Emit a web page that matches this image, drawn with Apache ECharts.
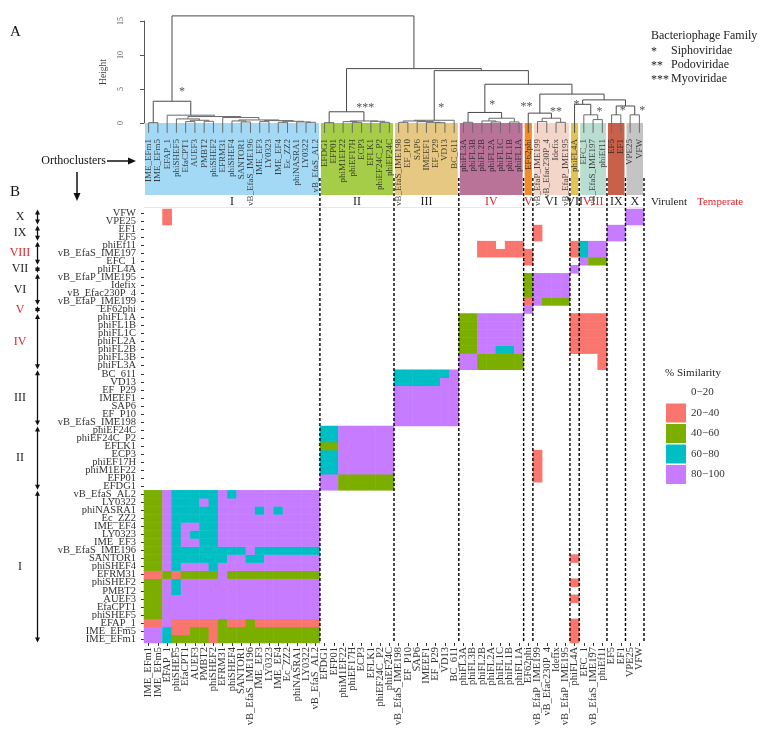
<!DOCTYPE html>
<html>
<head>
<meta charset="utf-8">
<script src="https://cdn.jsdelivr.net/npm/echarts@6.0.0/dist/echarts.min.js"></script>
<style>
html,body{margin:0;padding:0;background:#fff;}
#chart{width:762px;height:737px;}
</style>
</head>
<body>
<div id="chart"></div>
<script>
// ================= DATA =================
// phages in dendrogram / heatmap-column order (left -> right); rows use the same order bottom -> top
const phages = ['IME_EFm1','IME_EFm5','EFAP_1','phiSHEF5','EfaCPT1','AUEF3','PMBT2','phiSHEF2','EFRM31','phiSHEF4','SANTOR1','vB_EfaS_IME196','IME_EF3','LY0323','IME_EF4','Ec_ZZ2','phiNASRA1','LY0322','vB_EfaS_AL2',
  'EFDG1','EFP01','phiM1EF22','phiEF17H','ECP3','EFLK1','phiEF24C_P2','phiEF24C',
  'vB_EfaS_IME198','EF_P10','SAP6','IMEEF1','EF_P29','VD13','BC_611',
  'phiFL3A','phiFL3B','phiFL2B','phiFL2A','phiFL1C','phiFL1B','phiFL1A',
  'EF62phi',
  'vB_EfaP_IME199','vB_Efac230P_4','Idefix','vB_EfaP_IME195',
  'phiFL4A',
  'EFC_1','vB_EfaS_IME197','phiEf11',
  'EF5','EF1',
  'VPE25','VFW'];

const clusterNames = ['I','II','III','IV','V','VI','VII','VIII','IX','X'];
const clusterSizes = [19, 8, 7, 7, 1, 4, 1, 3, 2, 2];
const clusterLifestyle = ['Virulent','Virulent','Virulent','Temperate','Temperate','Virulent','Virulent','Temperate','Virulent','Virulent'];
const clusterFamily = ['*','***','*','*','**','**','*','*','*','*'];
const familyNames = ['Siphoviridae','Podoviridae','Myoviridae'];
const familyMarks = ['*','**','***'];

// % similarity bands
const bandLabels = ['0\u221220','20\u221240','40\u221260','60\u221280','80\u2212100'];

// similarity band per cell: row k = 0 (IME_EFm1, bottom) ... 53 (VFW, top);
// one digit per column (0 = 0-20, 1 = 20-40, 2 = 40-60, 3 = 60-80, 4 = 80-100),
// column groups separated by spaces: I II III IV V VI VII VIII IX X
const similarity = [
  '4432222122222222222 00000000 0000000 0000000 0 0000 1 000 00 00', // IME_EFm1
  '4431122122222222222 00000000 0000000 0000000 0 0000 1 000 00 00', // IME_EFm5
  '1141111121121111111 00000000 0000000 0000000 0 0000 1 000 00 00', // EFAP_1
  '2244444444444444444 00000000 0000000 0000000 0 0000 0 000 00 00', // phiSHEF5
  '2244444444444444444 00000000 0000000 0000000 0 0000 0 000 00 00', // EfaCPT1
  '2244444444444444444 00000000 0000000 0000000 0 0000 1 000 00 00', // AUEF3
  '2243444444444444444 00000000 0000000 0000000 0 0000 0 000 00 00', // PMBT2
  '2243444444444444444 00000000 0000000 0000000 0 0000 1 000 00 00', // phiSHEF2
  '1121222242222222222 00000000 0000000 0000000 0 0000 0 000 00 00', // EFRM31
  '2243444344444444444 00000000 0000000 0000000 0 0000 0 000 00 00', // phiSHEF4
  '2243333334433444444 00000000 0000000 0000000 0 0000 1 000 00 00', // SANTOR1
  '2243333333343333333 00000000 0000000 0000000 0 0000 0 000 00 00', // vB_EfaS_IME196
  '2243443344444444444 00000000 0000000 0000000 0 0000 0 000 00 00', // IME_EF3
  '2243433344444444444 00000000 0000000 0000000 0 0000 0 000 00 00', // LY0323
  '2243443344444444444 00000000 0000000 0000000 0 0000 0 000 00 00', // IME_EF4
  '2243333344444444444 00000000 0000000 0000000 0 0000 0 000 00 00', // Ec_ZZ2
  '2243333344443434444 00000000 0000000 0000000 0 0000 0 000 00 00', // phiNASRA1
  '2243334344444444444 00000000 0000000 0000000 0 0000 0 000 00 00', // LY0322
  '2243333343444444444 00000000 0000000 0000000 0 0000 0 000 00 00', // vB_EfaS_AL2
  '0000000000000000000 44222222 0000000 0000000 0 0000 0 000 00 00', // EFDG1
  '0000000000000000000 44222222 0000000 0000000 0 1000 0 000 00 00', // EFP01
  '0000000000000000000 33444444 0000000 0000000 0 1000 0 000 00 00', // phiM1EF22
  '0000000000000000000 33444444 0000000 0000000 0 1000 0 000 00 00', // phiEF17H
  '0000000000000000000 33444444 0000000 0000000 0 1000 0 000 00 00', // ECP3
  '0000000000000000000 22444444 0000000 0000000 0 0000 0 000 00 00', // EFLK1
  '0000000000000000000 33444444 0000000 0000000 0 0000 0 000 00 00', // phiEF24C_P2
  '0000000000000000000 33444444 0000000 0000000 0 0000 0 000 00 00', // phiEF24C
  '0000000000000000000 00000000 4444444 0000000 0 0000 0 000 00 00', // vB_EfaS_IME198
  '0000000000000000000 00000000 4444444 0000000 0 0000 0 000 00 00', // EF_P10
  '0000000000000000000 00000000 4444444 0000000 0 0000 0 000 00 00', // SAP6
  '0000000000000000000 00000000 4444444 0000000 0 0000 0 000 00 00', // IMEEF1
  '0000000000000000000 00000000 4444444 0000000 0 0000 0 000 00 00', // EF_P29
  '0000000000000000000 00000000 3333344 0000000 0 0000 0 000 00 00', // VD13
  '0000000000000000000 00000000 3333334 0000000 0 0000 0 000 00 00', // BC_611
  '0000000000000000000 00000000 0000000 4422222 0 0000 0 001 00 00', // phiFL3A
  '0000000000000000000 00000000 0000000 4422222 0 0000 0 001 00 00', // phiFL3B
  '0000000000000000000 00000000 0000000 2244334 0 0000 1 111 00 00', // phiFL2B
  '0000000000000000000 00000000 0000000 2244444 0 0000 1 111 00 00', // phiFL2A
  '0000000000000000000 00000000 0000000 2244444 0 0000 1 111 00 00', // phiFL1C
  '0000000000000000000 00000000 0000000 2244444 0 0000 1 111 00 00', // phiFL1B
  '0000000000000000000 00000000 0000000 2244444 0 0000 1 111 00 00', // phiFL1A
  '0000000000000000000 00000000 0000000 0000000 4 0000 0 000 00 00', // EF62phi
  '0000000000000000000 00000000 0000000 0000000 1 4222 0 000 00 00', // vB_EfaP_IME199
  '0000000000000000000 00000000 0000000 0000000 2 4444 0 000 00 00', // vB_Efac230P_4
  '0000000000000000000 00000000 0000000 0000000 2 4444 0 000 00 00', // Idefix
  '0000000000000000000 00000000 0000000 0000000 2 4444 0 000 00 00', // vB_EfaP_IME195
  '0000000000000000000 00000000 0000000 0000000 0 0000 4 000 00 00', // phiFL4A
  '0000000000000000000 00000000 0000000 0000000 1 0000 0 422 00 00', // EFC_1
  '0000000000000000000 00000000 0000000 0011111 1 0000 1 344 00 00', // vB_EfaS_IME197
  '0000000000000000000 00000000 0000000 0011011 0 0000 1 344 00 00', // phiEf11
  '0000000000000000000 00000000 0000000 0000000 0 1000 0 000 44 00', // EF5
  '0000000000000000000 00000000 0000000 0000000 0 1000 0 000 44 00', // EF1
  '0010000000000000000 00000000 0000000 0000000 0 0000 0 000 00 44', // VPE25
  '0010000000000000000 00000000 0000000 0000000 0 0000 0 000 00 44'  // VFW
];

// dendrogram: [height, left, right]; leaves are phage names
const treeI = [3.2,
  [0.05, 'IME_EFm1', 'IME_EFm5'],
  [1.15, 'EFAP_1',
    [0.95,
      [0.6, 'phiSHEF5', [0.4, [0.2, 'EfaCPT1', 'AUEF3'], [0.25, 'PMBT2', 'phiSHEF2']]],
      [0.8, 'EFRM31',
        [0.45,
          [0.3, 'phiSHEF4', [0.15, 'SANTOR1', 'vB_EfaS_IME196']],
          [0.35, [0.2, 'IME_EF3', 'LY0323'],
            [0.25, [0.1, 'IME_EF4', 'Ec_ZZ2'], [0.15, 'phiNASRA1', [0.1, 'LY0322', 'vB_EfaS_AL2']]]]]]]]];
const treeII = [1.65, [0.05, 'EFDG1', 'EFP01'],
  [0.3, [0.2, 'phiM1EF22', [0.1, 'phiEF17H', 'ECP3']], [0.25, 'EFLK1', [0.1, 'phiEF24C_P2', 'phiEF24C']]]];
const treeIII = [0.4, [0.3, [0.1, 'vB_EfaS_IME198', 'EF_P10'], [0.2, 'SAP6', [0.1, 'IMEEF1', [0.05, 'EF_P29', 'VD13']]]], 'BC_611'];
const treeIV = [1.55, [0.1, 'phiFL3A', 'phiFL3B'], [0.7, [0.3, 'phiFL2B', [0.15, 'phiFL2A', 'phiFL1C']], [0.15, 'phiFL1B', 'phiFL1A']]];
const treeVI = [0.7, [0.2, 'vB_EfaP_IME199', 'vB_Efac230P_4'], [0.1, 'Idefix', 'vB_EfaP_IME195']];
const treeVIII = [1.2, 'EFC_1', [0.5, 'vB_EfaS_IME197', 'phiEf11']];
const treeIX = [1.2, 'EF5', 'EF1'];
const treeX = [1.2, 'VPE25', 'VFW'];
const dendrogram = [15.75, treeI,
  [8.0, treeII,
    [7.7, treeIII,
      [5.7, treeIV,
        [4.25, [1.45, 'EF62phi', treeVI],
          [3.4, [2.75, 'phiFL4A', treeVIII], [2.5, treeIX, treeX]]]]]]];

const heightTicks = [0, 5, 10, 15];

// ================= LAYOUT / STYLE =================
const FONT = 'Liberation Serif';
const RED = '#e0282e';
const PLOT_L = 144, PLOT_W = 500;
const DEN_TOP = 21, DEN_H = 102;          // height 15 at top, 0 at bottom
const HEAT_TOP = 209, HEAT_H = 434;
const BOX_TOP = 123, BOX_BOTTOM = 195;
const LEAF_H = -1.45;                      // leaf segments hang into the boxes
const LEAF_LABEL_TOP = 139;
const DASH_TOP = 178;
const BRACKET_X = 37.5, BRACKET_LABEL_X = 20;
const clusterFill = ['#a3d9f5','#a5cd47','#e7c882','#b97399','#f28c28','#f3d5ca','#e3c256','#b9ddd0','#c9604a','#c4c4c4'];
const bandColors = ['#ffffff','#F8766D','#7CAE00','#00BFC4','#C77CFF'];
// family-mark label anchors (column units, height units)
const markPos = [[4.1, 4.6], [23.9, 2.3], [32.1, 2.2], [37.6, 2.6], [41.3, 2.4], [44.5, 1.6], [46.7, 2.6], [49.2, 1.7], [51.7, 1.75], [53.8, 1.75]];

// ================= BUILD =================
const links = [];
function walk(node) {
  if (typeof node === 'string') return { x: phages.indexOf(node) + 0.5, h: LEAF_H };
  const L = walk(node[1]), R = walk(node[2]);
  links.push([L.x, L.h, R.x, R.h, node[0]]);
  return { x: (L.x + R.x) / 2, h: node[0] };
}
walk(dendrogram);

const clusterData = [];
let start = 0;
clusterSizes.forEach((n, i) => { clusterData.push([start, start + n, 0, i]); start += n; });

const bracketData = [];
{ let s = 0; clusterSizes.forEach((n, i) => { bracketData.push([0, s, s + n - 1, i]); s += n; }); }

const heatData = [];
similarity.forEach((row, k) => {
  const digits = row.replace(/ /g, '');
  for (let c = 0; c < digits.length; c++) {
    const b = +digits[c];
    if (b > 0) heatData.push([c, k, b]);
  }
});

const chart = echarts.init(document.getElementById('chart'), null, { renderer: 'canvas' });
const option = {
  animation: false,
  backgroundColor: '#fff',
  textStyle: { fontFamily: FONT },
  grid: [
    { left: PLOT_L, top: DEN_TOP, width: PLOT_W, height: DEN_H },
    { left: PLOT_L, top: HEAT_TOP, width: PLOT_W, height: HEAT_H }
  ],
  xAxis: [
    { gridIndex: 0, type: 'value', min: 0, max: phages.length, show: false },
    { gridIndex: 1, type: 'category', data: phages,
      axisLine: { show: false },
      axisTick: { show: true, alignWithLabel: true, length: 3, lineStyle: { color: '#333' } },
      axisLabel: { rotate: 90, interval: 0, fontSize: 10.5, fontFamily: FONT, color: '#333', margin: 4 },
      splitLine: { show: false } }
  ],
  yAxis: [
    { gridIndex: 0, type: 'value', min: 0, max: 15, interval: 5, offset: 14,
      axisLine: { show: true, lineStyle: { color: '#555', width: 1 } },
      axisTick: { show: true, length: 4, lineStyle: { color: '#555' } },
      axisLabel: { rotate: 90, fontSize: 8, color: '#555', fontFamily: FONT, margin: 5 },
      splitLine: { show: false },
      name: 'Height', nameLocation: 'middle', nameGap: 22, nameRotate: 90,
      nameTextStyle: { fontSize: 9.5, color: '#444', fontFamily: FONT } },
    { gridIndex: 1, type: 'category', data: phages,
      axisLine: { show: false },
      axisTick: { show: true, alignWithLabel: true, length: 3, lineStyle: { color: '#333' } },
      axisLabel: { interval: 0, fontSize: 10.5, fontFamily: FONT, color: '#333', margin: 8 },
      splitLine: { show: false } }
  ],
  visualMap: {
    type: 'piecewise', seriesIndex: 2, dimension: 2,
    pieces: bandLabels.map((l, i) => ({ value: i, label: l, color: bandColors[i] })),
    orient: 'vertical', left: 666, top: 383, padding: 0, itemWidth: 20, itemHeight: 19, itemGap: 1.5, textGap: 5,
    align: 'left', itemSymbol: 'rect',
    inverse: true, selectedMode: false, showLabel: true,
    textStyle: { fontFamily: FONT, fontSize: 11, color: '#333' }
  },
  series: [
    { // 0: dendrogram
      type: 'custom', xAxisIndex: 0, yAxisIndex: 0, z: 6, clip: false,
      data: links, encode: { x: [0, 2], y: [1, 3, 4] },
      renderItem: (p, api) => {
        const a = api.coord([api.value(0), api.value(1)]);
        const b = api.coord([api.value(0), api.value(4)]);
        const c = api.coord([api.value(2), api.value(4)]);
        const d = api.coord([api.value(2), api.value(3)]);
        return { type: 'polyline', shape: { points: [a, b, c, d] },
          style: { stroke: api.value(4) > 1.4 ? '#4a4a4a' : '#6a6a6a', lineWidth: 1, fill: null } };
      }
    },
    { // 1: cluster boxes, leaf labels, numerals, boundaries, family marks
      type: 'custom', xAxisIndex: 0, yAxisIndex: 0, z: 5, clip: false,
      data: clusterData, encode: { x: [0, 1], y: 2 },
      renderItem: (p, api) => {
        const s = api.value(0), e = api.value(1), i = api.value(3);
        const x0 = api.coord([s, 0])[0], x1 = api.coord([e, 0])[0];
        const ch = [];
        ch.push({ type: 'rect', shape: { x: x0 + 1, y: BOX_TOP, width: x1 - x0 - 2, height: BOX_BOTTOM - BOX_TOP },
          style: { fill: clusterFill[i] } });
        for (let c = s; c < e; c++) {
          const xc = api.coord([c + 0.5, 0])[0];
          ch.push({ type: 'text', x: xc, y: LEAF_LABEL_TOP, rotation: Math.PI / 2,
            style: { text: phages[c], align: 'right', verticalAlign: 'middle', fontSize: 9, fontFamily: FONT, fill: 'rgba(20,20,20,0.8)' } });
        }
        ch.push({ type: 'text', x: (x0 + x1) / 2, y: 202,
          style: { text: clusterNames[i], align: 'center', verticalAlign: 'middle', fontSize: 12, fontFamily: FONT,
            fill: clusterLifestyle[i] === 'Temperate' ? RED : '#222' } });
        ch.push({ type: 'line', shape: { x1: x1, y1: DASH_TOP, x2: x1, y2: HEAT_TOP + HEAT_H },
          style: { stroke: '#000', lineWidth: 1.4, lineDash: [3, 2] } });
        const m = api.coord(markPos[i]);
        ch.push({ type: 'text', x: m[0], y: m[1],
          style: { text: clusterFamily[i], align: 'center', verticalAlign: 'middle', fontSize: 12, fontFamily: FONT, fill: '#555' } });
        return { type: 'group', children: ch };
      }
    },
    { // 2: heatmap
      type: 'heatmap', xAxisIndex: 1, yAxisIndex: 1, z: 2,
      data: heatData, itemStyle: { borderWidth: 0 }, emphasis: { disabled: true }
    },
    { // 3: cluster brackets on the left
      type: 'custom', xAxisIndex: 1, yAxisIndex: 1, z: 5, clip: false,
      data: bracketData, encode: { x: 0, y: [1, 2] },
      renderItem: (p, api) => {
        const i = api.value(3);
        const hCell = api.size([1, 1])[1];
        const top = api.coord([0, api.value(2)])[1] - hCell / 2 + 0.5;
        const bot = api.coord([0, api.value(1)])[1] + hCell / 2 - 0.5;
        const x = BRACKET_X;
        return { type: 'group', children: [
          { type: 'line', shape: { x1: x, y1: top + 2, x2: x, y2: bot - 2 }, style: { stroke: '#111', lineWidth: 1.3 } },
          { type: 'polygon', shape: { points: [[x - 2.5, top + 5], [x, top], [x + 2.5, top + 5]] }, style: { fill: '#111' } },
          { type: 'polygon', shape: { points: [[x - 2.5, bot - 5], [x, bot], [x + 2.5, bot - 5]] }, style: { fill: '#111' } },
          { type: 'text', x: BRACKET_LABEL_X, y: (top + bot) / 2,
            style: { text: clusterNames[i], align: 'center', verticalAlign: 'middle', fontSize: 12, fontFamily: FONT,
              fill: clusterLifestyle[i] === 'Temperate' ? RED : '#222' } }
        ] };
      }
    }
  ],
  graphic: [
    { type: 'line', shape: { x1: PLOT_L, y1: HEAT_TOP - 1.5, x2: PLOT_L + PLOT_W, y2: HEAT_TOP - 1.5 }, style: { stroke: '#e6e6e6', lineWidth: 1 } },
    { type: 'text', left: 10, top: 25, style: { text: 'A', fontSize: 15, fontFamily: FONT, fill: '#111' } },
    { type: 'text', left: 10, top: 185, style: { text: 'B', fontSize: 15, fontFamily: FONT, fill: '#111' } },
    { type: 'text', x: 106, y: 161, style: { text: 'Orthoclusters', align: 'right', verticalAlign: 'middle', fontSize: 12, fontFamily: FONT, fill: '#111' } },
    { type: 'line', shape: { x1: 107, y1: 161, x2: 130, y2: 161 }, style: { stroke: '#111', lineWidth: 1.5 } },
    { type: 'polygon', shape: { points: [[128, 157.5], [136, 161], [128, 164.5]] }, style: { fill: '#111' } },
    { type: 'line', shape: { x1: 77, y1: 172, x2: 77, y2: 195 }, style: { stroke: '#111', lineWidth: 1.5 } },
    { type: 'polygon', shape: { points: [[73.5, 193], [77, 201], [80.5, 193]] }, style: { fill: '#111' } },
    { type: 'text', x: 651, y: 36, style: { text: 'Bacteriophage Family', verticalAlign: 'middle', fontSize: 12, fontFamily: FONT, fill: '#222' } },
    { type: 'text', x: 651, y: 52, style: { text: familyMarks[0], verticalAlign: 'middle', fontSize: 12, fontFamily: FONT, fill: '#222' } },
    { type: 'text', x: 671, y: 51, style: { text: familyNames[0], verticalAlign: 'middle', fontSize: 12, fontFamily: FONT, fill: '#222' } },
    { type: 'text', x: 651, y: 66, style: { text: familyMarks[1], verticalAlign: 'middle', fontSize: 12, fontFamily: FONT, fill: '#222' } },
    { type: 'text', x: 671, y: 65, style: { text: familyNames[1], verticalAlign: 'middle', fontSize: 12, fontFamily: FONT, fill: '#222' } },
    { type: 'text', x: 651, y: 80, style: { text: familyMarks[2], verticalAlign: 'middle', fontSize: 12, fontFamily: FONT, fill: '#222' } },
    { type: 'text', x: 671, y: 79, style: { text: familyNames[2], verticalAlign: 'middle', fontSize: 12, fontFamily: FONT, fill: '#222' } },
    { type: 'text', x: 651, y: 202, style: { text: 'Virulent', verticalAlign: 'middle', fontSize: 11, fontFamily: FONT, fill: '#222' } },
    { type: 'text', x: 697, y: 202, style: { text: 'Temperate', verticalAlign: 'middle', fontSize: 11, fontFamily: FONT, fill: RED } },
    { type: 'text', x: 665, y: 373, style: { text: '% Similarity', verticalAlign: 'middle', fontSize: 11, fontFamily: FONT, fill: '#222' } }
  ]
};
chart.setOption(option);
</script>
</body>
</html>
